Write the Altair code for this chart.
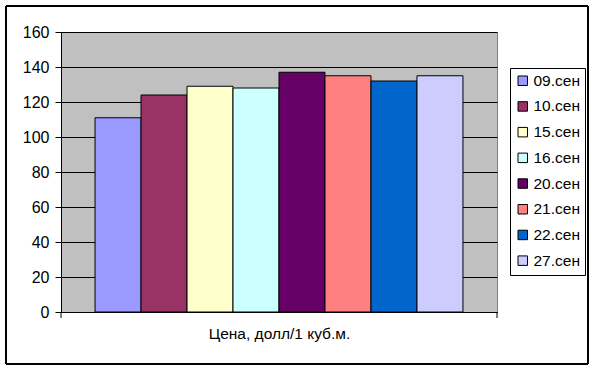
import altair as alt
import pandas as pd

dates = ["09.сен", "10.сен", "15.сен", "16.сен", "20.сен", "21.сен", "22.сен", "27.сен"]
prices = [111, 124, 129, 128, 137, 135, 132, 135]
colors = ["#9999FF", "#993366", "#FFFFCC", "#CCFFFF", "#660066", "#FF8080", "#0066CC", "#CCCCFF"]
y_ticks = [0, 20, 40, 60, 80, 100, 120, 140, 160]
x_title = "Цена, долл/1 куб.м."

df = pd.DataFrame({"date": dates, "price": prices})

FONT = "Liberation Sans"

bars = alt.Chart(df).mark_bar(stroke="black", strokeWidth=1).encode(
    x=alt.X("date:N", sort=dates,
            scale=alt.Scale(paddingInner=0, paddingOuter=0.74),
            axis=alt.Axis(title=x_title, labels=False, ticks=False, domainColor="black",
                          titleFontSize=15.5, titleFontWeight="normal", titleFont=FONT,
                          titleColor="black", titlePadding=14)),
    y=alt.Y("price:Q", scale=alt.Scale(domain=[0, 160], nice=False),
            axis=alt.Axis(title=None, values=y_ticks, grid=True, gridColor="black",
                          gridOpacity=1, domainColor="black", tickColor="black", tickSize=6,
                          labelFontSize=16, labelFont=FONT, labelColor="black", labelPadding=6)),
    color=alt.Color("date:N", sort=dates,
                    scale=alt.Scale(domain=dates, range=colors),
                    legend=alt.Legend(title=None, orient="none", legendX=449, legendY=36,
                                      strokeColor="black", padding=5, symbolType="square",
                                      symbolSize=90, symbolStrokeColor="black",
                                      symbolStrokeWidth=1, labelFontSize=15.5, labelFont=FONT,
                                      labelColor="black", rowPadding=8.7, labelOffset=3,
                                      fillColor="white")),
)

border = alt.Chart(df).mark_rect(fill=None, stroke="black", strokeWidth=1).encode(
    x=alt.value(-55), x2=alt.value(527), y=alt.value(-26), y2=alt.value(332)
)
endticks = alt.Chart(pd.DataFrame({"p": [0, 436]})).mark_rule(color="black").encode(
    x=alt.X("p:Q", scale=alt.Scale(domain=[0, 436], range=[0, 436]), axis=None),
    y=alt.value(280), y2=alt.value(286)
)

chart = alt.layer(border, bars, endticks).resolve_scale(x="independent").properties(
    width=436, height=280,
    autosize=alt.AutoSizeParams(type="none"),
    padding={"left": 61, "top": 32, "right": 99, "bottom": 58},
    background="white",
).configure_view(stroke="#808080", fill="#C0C0C0").configure_axisY(labelFontSize=16)

chart.save("out.html", embed_options={"renderer": "svg", "actions": False})
